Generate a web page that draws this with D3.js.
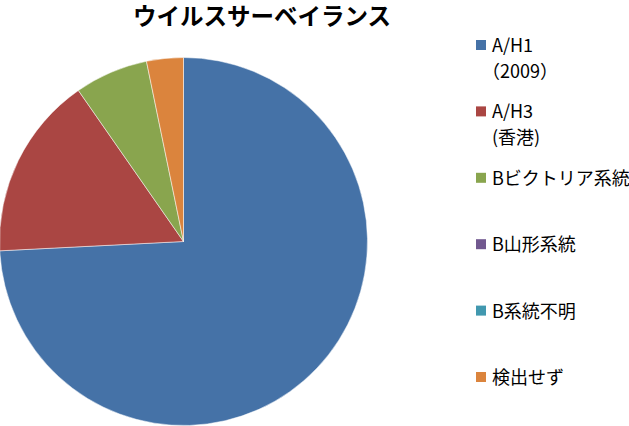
<!DOCTYPE html>
<html>
<head>
<meta charset="utf-8">
<script src="https://cdn.jsdelivr.net/npm/d3@7"></script>
<style>
  body { margin: 0; background: #fff; }
  svg { display: block; }
</style>
</head>
<body>
<script>
// data (counts, total 31)
var categories = ["A/H1\n（2009）", "A/H3\n(香港)", "Bビクトリア系統", "B山形系統", "B系統不明", "検出せず"];
var counts = [23, 5, 2, 0, 0, 1];
var colors = ["#4572A7", "#AA4643", "#89A54E", "#71588F", "#4198AF", "#DB843D"];
var title = "ウイルスサーベイランス";

var svgConfig = {
  width: 629,
  height: 426,
  cx: 183.5,
  cy: 241.5,
  r: 184
};

var fontFam = "'Noto Sans CJK JP', 'Noto Sans', sans-serif";

var svg = d3.select("body").append("svg")
  .attr("width", svgConfig.width)
  .attr("height", svgConfig.height);

svg.append("text")
  .attr("x", 262)
  .attr("y", 25)
  .attr("text-anchor", "middle")
  .attr("font-family", fontFam)
  .attr("font-weight", "bold")
  .attr("font-size", 23.5)
  .text(title);

var rows = categories.map(function(c, i) {
  return { name: c, value: counts[i], color: colors[i] };
});

var pie = d3.pie()
  .sort(null)
  .value(function(d) { return d.value; });

var arc = d3.arc()
  .innerRadius(0)
  .outerRadius(svgConfig.r);

svg.append("g")
  .attr("transform", "translate(" + svgConfig.cx + "," + svgConfig.cy + ")")
  .selectAll("path")
  .data(pie(rows).filter(function(d) { return d.data.value > 0; }))
  .enter().append("path")
  .attr("d", arc)
  .attr("fill", function(d) { return d.data.color; })
  .attr("stroke", "#fff")
  .attr("stroke-width", 0.5);

// legend
var legendY = d3.scalePoint()
  .domain(categories)
  .range([45, 377]);

var legend = svg.append("g")
  .selectAll("g")
  .data(rows)
  .enter().append("g")
  .attr("transform", function(d) { return "translate(476," + legendY(d.name) + ")"; });

legend.append("rect")
  .attr("x", 0)
  .attr("y", -5)
  .attr("width", 10)
  .attr("height", 10)
  .attr("fill", function(d) { return d.color; });

legend.append("text")
  .attr("font-family", fontFam)
  .attr("font-size", 18)
  .attr("fill", "#000")
  .selectAll("tspan")
  .data(function(d) { return d.name.split("\n"); })
  .enter().append("tspan")
  .attr("x", function(t) { return t.charAt(0) === "（" ? 6 : 16; })
  .attr("y", function(t, i) { return 7 + i * 26; })
  .text(function(t) { return t; });
</script>
</body>
</html>
